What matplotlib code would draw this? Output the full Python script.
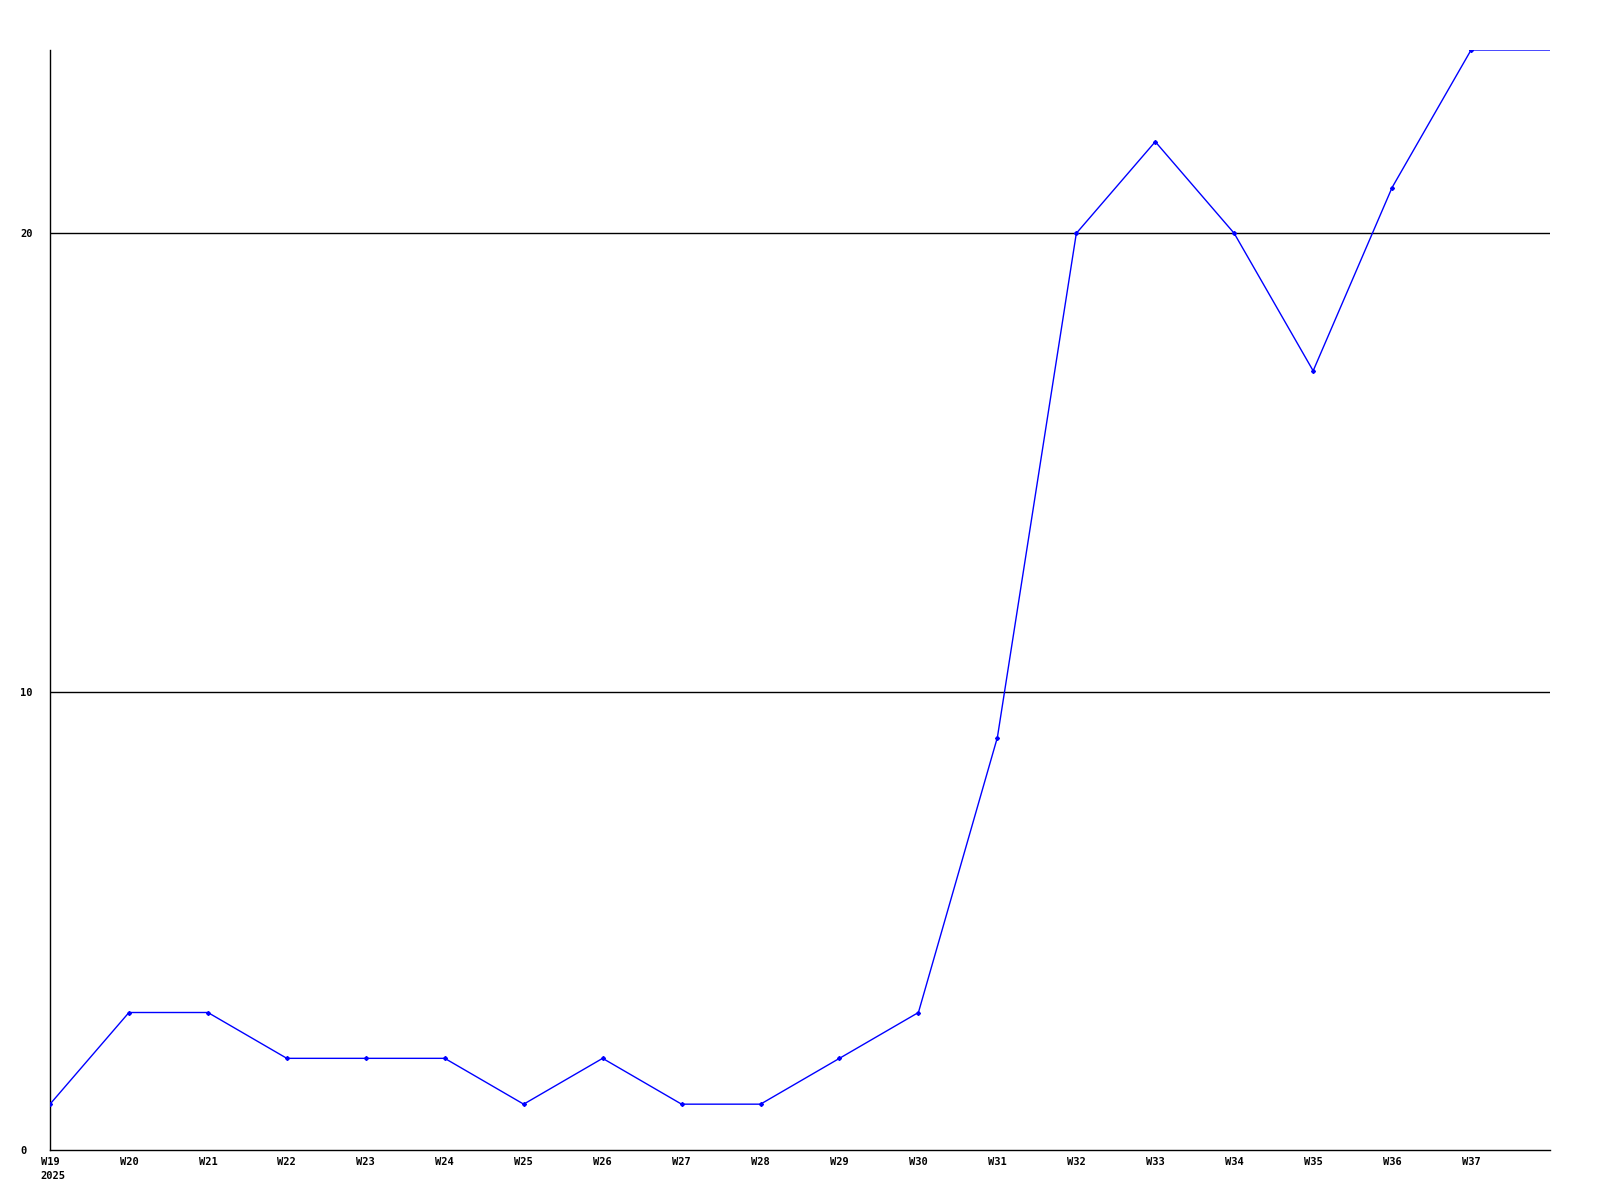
import matplotlib
matplotlib.use("Agg")
import matplotlib.pyplot as plt
from matplotlib.transforms import offset_copy

weeks = ["W19", "W20", "W21", "W22", "W23", "W24", "W25", "W26", "W27", "W28",
         "W29", "W30", "W31", "W32", "W33", "W34", "W35", "W36", "W37", "W38"]
values = [1, 3, 3, 2, 2, 2, 1, 2, 1, 1, 2, 3, 9, 20, 22, 20, 17, 21, 24, 24]
yticks = [0, 10, 20]
year = "2025"

plt.rcParams['font.family'] = ['DejaVu Sans Mono']

fig = plt.figure(figsize=(16, 12), dpi=100)
ax = fig.add_axes([50/1600, 50/1200, 1500/1600, 1100/1200])

x = list(range(len(weeks)))
ax.plot(x, values, color="#0000ff", lw=1, marker="D", ms=2,
        markevery=list(range(len(weeks) - 1)), zorder=3)

ax.set_xlim(0, len(weeks) - 1)
ax.set_ylim(0, 24)

for t in yticks[1:]:
    ax.axhline(t, color="black", lw=1, zorder=1)

for s in ["top", "right"]:
    ax.spines[s].set_visible(False)
for s in ["left", "bottom"]:
    ax.spines[s].set_linewidth(1)

ax.set_yticks(yticks)
ax.set_yticklabels([str(t) for t in yticks], fontsize=7.5, fontweight="bold", ha="left")
ax.tick_params(axis="y", length=0, pad=21.6)

ax.set_xticks(x[:-1])
ax.set_xticklabels(weeks[:-1], fontsize=7.5, fontweight="bold")
ax.tick_params(axis="x", length=0, pad=5)

tr = offset_copy(ax.get_xaxis_transform(), fig=fig, x=-10, y=-21, units="dots")
ax.text(0, 0, year, transform=tr, fontsize=7.5, fontweight="bold", ha="left", va="top")

fig.savefig("out.png", dpi=100)
